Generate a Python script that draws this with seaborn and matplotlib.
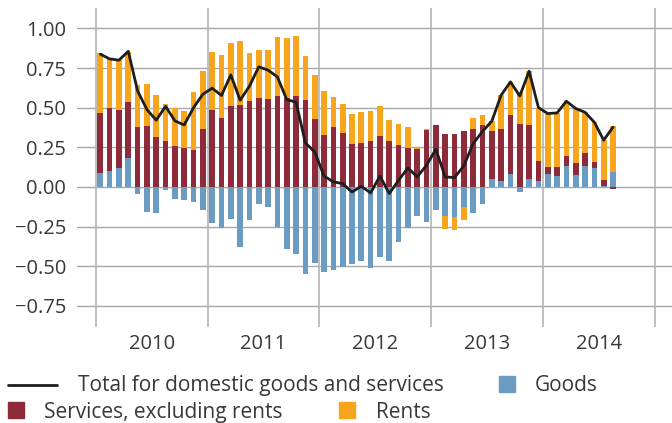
import numpy as np
import pandas as pd
import matplotlib
matplotlib.use("Agg")
import matplotlib.pyplot as plt
from matplotlib.lines import Line2D
from matplotlib.patches import Rectangle
import seaborn as sns

# monthly contributions, Jan 2010 - Aug 2014
goods = [0.086, 0.099, 0.118, 0.181, -0.044, -0.158, -0.164, -0.019, -0.078, -0.084, -0.095, -0.147,
         -0.227, -0.259, -0.202, -0.379, -0.208, -0.107, -0.126, -0.250, -0.391, -0.423, -0.549, -0.480,
         -0.537, -0.524, -0.505, -0.486, -0.467, -0.511, -0.442, -0.467, -0.347, -0.259, -0.183, -0.221,
         -0.145, -0.185, -0.191, -0.128, -0.164, -0.107, 0.048, 0.036, 0.080, -0.032, 0.048, 0.036,
         0.080, 0.067, 0.130, 0.074, 0.130, 0.118, 0.004, 0.093]
services = [0.379, 0.398, 0.366, 0.354, 0.377, 0.383, 0.314, 0.288, 0.257, 0.244, 0.231, 0.364,
            0.486, 0.436, 0.509, 0.516, 0.541, 0.560, 0.553, 0.572, 0.560, 0.572, 0.549, 0.429,
            0.326, 0.377, 0.339, 0.269, 0.276, 0.288, 0.320, 0.288, 0.263, 0.244, 0.238, 0.358,
            0.389, 0.332, 0.332, 0.351, 0.364, 0.389, 0.303, 0.328, 0.372, 0.396, 0.341, 0.126,
            0.044, 0.057, 0.064, 0.075, 0.083, 0.038, 0.038, -0.013]
rents = [0.381, 0.317, 0.320, 0.317, 0.265, 0.265, 0.265, 0.236, 0.242, 0.234, 0.367, 0.366,
         0.364, 0.395, 0.398, 0.404, 0.303, 0.303, 0.310, 0.373, 0.379, 0.379, 0.276, 0.276,
         0.280, 0.189, 0.183, 0.190, 0.195, 0.190, 0.189, 0.133, 0.133, 0.133, 0.006, 0.006,
         0.0, -0.080, -0.080, -0.080, 0.069, 0.063, 0.063, 0.215, 0.211, 0.204, 0.341, 0.339,
         0.339, 0.345, 0.347, 0.346, 0.258, 0.252, 0.253, 0.290]
total = [0.838, 0.808, 0.800, 0.856, 0.606, 0.488, 0.421, 0.509, 0.417, 0.391, 0.500, 0.585,
         0.623, 0.577, 0.707, 0.547, 0.636, 0.758, 0.737, 0.694, 0.551, 0.535, 0.278, 0.221,
         0.069, 0.032, 0.021, -0.032, 0.004, -0.038, 0.069, -0.042, 0.042, 0.120, 0.063, 0.137,
         0.238, 0.063, 0.059, 0.133, 0.274, 0.350, 0.415, 0.579, 0.663, 0.574, 0.730, 0.501,
         0.463, 0.467, 0.541, 0.495, 0.471, 0.408, 0.295, 0.377]
years = ["2010", "2011", "2012", "2013", "2014"]
yticks = [-0.75, -0.50, -0.25, 0.0, 0.25, 0.50, 0.75, 1.00]

c_goods = "#6a9bc2"
c_serv = "#8e2b3b"
c_rents = "#f6a51c"
c_text = "#383838"
c_grid = "#a8a8a8"

sns.set_theme(style="white")
plt.rcParams["font.family"] = ["Open Sans", "DejaVu Sans"]

df = pd.DataFrame({"date": pd.date_range("2010-01-01", periods=len(total), freq="MS"),
                   "Goods": goods, "Services": services, "Rents": rents, "Total": total})
df["x"] = np.arange(len(df))

fig = plt.figure(figsize=(6.72, 4.23), dpi=100)
ax = fig.add_axes([77 / 672, 96 / 423, 595 / 672, 318.5 / 423])

for y in yticks:
    ax.axhline(y, color=c_grid, lw=1.0, zorder=0)
for i in range(len(years) + 1):
    ax.axvline(12 * i - 0.5, color="#b4b4b4", lw=1.2, zorder=0)

pos_base = np.zeros(len(df))
neg_base = np.zeros(len(df))
for col, color in [("Goods", c_goods), ("Services", c_serv), ("Rents", c_rents)]:
    v = df[col].to_numpy()
    base = np.where(v >= 0, pos_base, neg_base)
    ax.bar(df["x"], v, bottom=base, width=0.61, color=color, linewidth=0, zorder=2)
    pos_base = pos_base + np.clip(v, 0, None)
    neg_base = neg_base + np.clip(v, None, 0)

sns.lineplot(data=df, x="x", y="Total", color="#1e1e1e", lw=2.0, ax=ax, zorder=3, legend=False)

ax.set_xlim(-2.5, 61.33)
ax.set_ylim(-0.884, 1.126)
ax.set_yticks(yticks)
ax.set_yticklabels([f"{t:.2f}".replace("-", "\u2212") for t in yticks])
ax.set_xticks([12 * i + 5.5 for i in range(len(years))])
ax.set_xticklabels(years)
ax.tick_params(axis="both", length=0, labelsize=14.5, colors=c_text)
ax.tick_params(axis="y", pad=8)
ax.tick_params(axis="x", pad=5)
ax.set_xlabel("")
ax.set_ylabel("")
for s in ax.spines.values():
    s.set_visible(False)

# legend drawn by hand, two rows
def px(x, y):
    return x / 672, 1 - y / 423

fs = 15
row1, row2 = 391.3, 417.5
fig.add_artist(Line2D([8 / 672, 57 / 672], [px(0, row1 - 6.8)[1]] * 2, color="#1e1e1e", lw=2.0))
fig.text(*px(78, row1), "Total for domestic goods and services", fontsize=fs, color=c_text, va="baseline")
fig.add_artist(Rectangle(px(499, row1 + 0.7), 16 / 672, 16 / 423, color=c_goods))
fig.text(*px(535, row1), "Goods", fontsize=fs, color=c_text, va="baseline")
fig.add_artist(Rectangle(px(8, row2 + 0.7), 16 / 672, 16 / 423, color=c_serv))
fig.text(*px(44, row2), "Services, excluding rents", fontsize=fs, color=c_text, va="baseline")
fig.add_artist(Rectangle(px(339, row2 + 0.7), 16 / 672, 16 / 423, color=c_rents))
fig.text(*px(376, row2), "Rents", fontsize=fs, color=c_text, va="baseline")

fig.savefig("out.png", dpi=100)
